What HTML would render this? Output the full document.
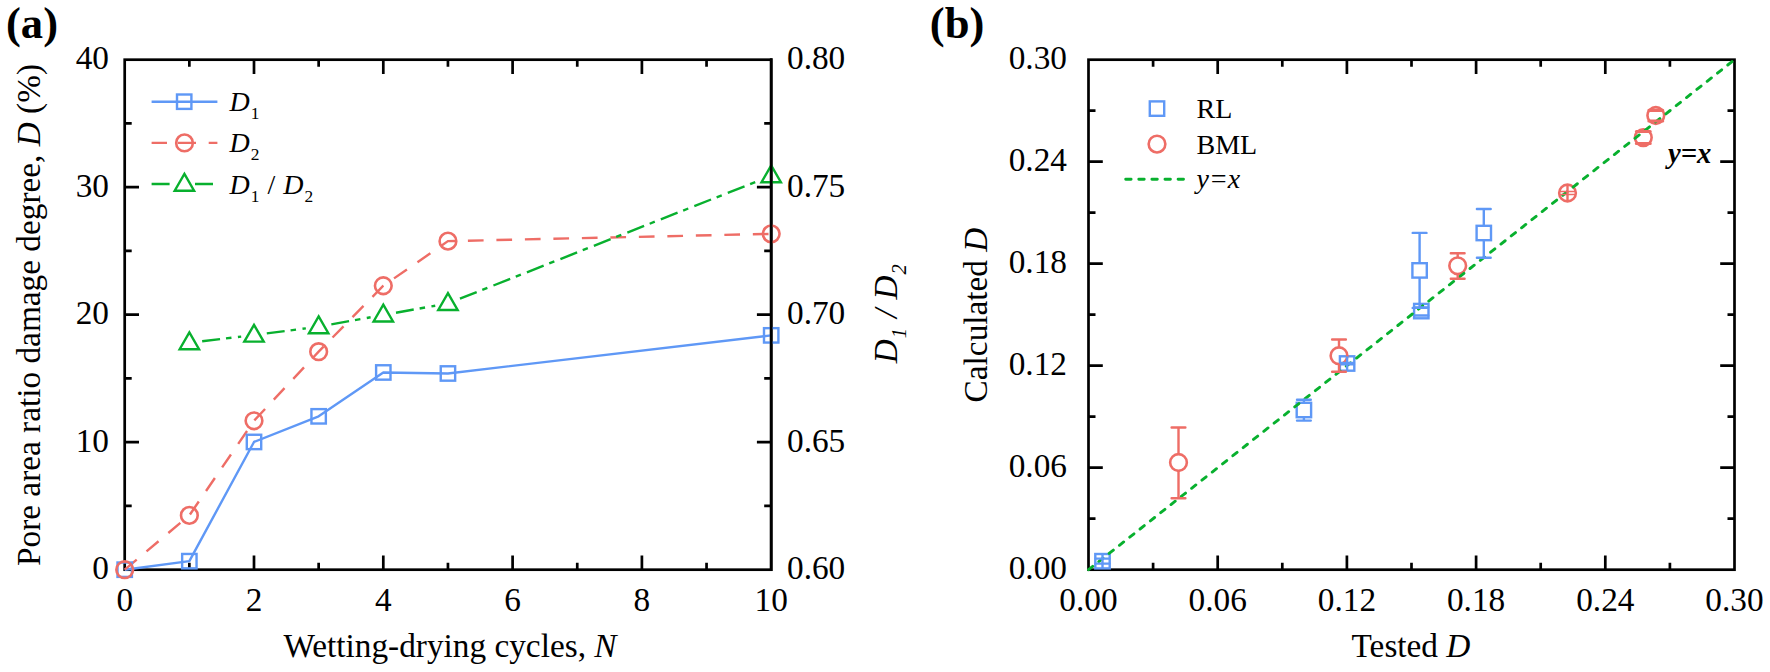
<!DOCTYPE html>
<html><head><meta charset="utf-8"><title>Figure</title>
<style>
html,body{margin:0;padding:0;background:#fff;}
svg{display:block;}
text{font-family:"Liberation Serif",serif;fill:#000;}
.t{font-size:33.3px;}
.l{font-size:28.0px;}
.i{font-style:italic;}
.s{font-size:17.4px;}
.ss{font-size:20.6px;}
.p{font-size:44.6px;font-weight:bold;}
.bi{font-size:28.6px;font-weight:bold;font-style:italic;}
</style></head><body>
<svg width="1770" height="672" viewBox="0 0 1770 672">
<rect width="1770" height="672" fill="#fff"/>
<g id="pa">
<rect x="124.7" y="59.7" width="646.5" height="510.00000000000006" fill="none" stroke="#000" stroke-width="2.7" stroke-linejoin="miter"/>
<path d="M189.35 569.7V562.7M189.35 59.7V66.7" stroke="#000" stroke-width="2.7" fill="none"/>
<path d="M254.00 569.7V555.4000000000001M254.00 59.7V74.0" stroke="#000" stroke-width="2.7" fill="none"/>
<path d="M318.65 569.7V562.7M318.65 59.7V66.7" stroke="#000" stroke-width="2.7" fill="none"/>
<path d="M383.30 569.7V555.4000000000001M383.30 59.7V74.0" stroke="#000" stroke-width="2.7" fill="none"/>
<path d="M447.95 569.7V562.7M447.95 59.7V66.7" stroke="#000" stroke-width="2.7" fill="none"/>
<path d="M512.60 569.7V555.4000000000001M512.60 59.7V74.0" stroke="#000" stroke-width="2.7" fill="none"/>
<path d="M577.25 569.7V562.7M577.25 59.7V66.7" stroke="#000" stroke-width="2.7" fill="none"/>
<path d="M641.90 569.7V555.4000000000001M641.90 59.7V74.0" stroke="#000" stroke-width="2.7" fill="none"/>
<path d="M706.55 569.7V562.7M706.55 59.7V66.7" stroke="#000" stroke-width="2.7" fill="none"/>
<path d="M124.7 505.95H131.7M771.2 505.95H764.2" stroke="#000" stroke-width="2.7" fill="none"/>
<path d="M124.7 442.20H139.0M771.2 442.20H756.9000000000001" stroke="#000" stroke-width="2.7" fill="none"/>
<path d="M124.7 378.45H131.7M771.2 378.45H764.2" stroke="#000" stroke-width="2.7" fill="none"/>
<path d="M124.7 314.70H139.0M771.2 314.70H756.9000000000001" stroke="#000" stroke-width="2.7" fill="none"/>
<path d="M124.7 250.95H131.7M771.2 250.95H764.2" stroke="#000" stroke-width="2.7" fill="none"/>
<path d="M124.7 187.20H139.0M771.2 187.20H756.9000000000001" stroke="#000" stroke-width="2.7" fill="none"/>
<path d="M124.7 123.45H131.7M771.2 123.45H764.2" stroke="#000" stroke-width="2.7" fill="none"/>
<text transform="translate(109.0,579.4) scale(1,1.04)" text-anchor="end" class="t">0</text>
<text transform="translate(109.0,451.9) scale(1,1.04)" text-anchor="end" class="t">10</text>
<text transform="translate(109.0,324.4) scale(1,1.04)" text-anchor="end" class="t">20</text>
<text transform="translate(109.0,196.9) scale(1,1.04)" text-anchor="end" class="t">30</text>
<text transform="translate(109.0,69.4) scale(1,1.04)" text-anchor="end" class="t">40</text>
<text transform="translate(124.7,611.0) scale(1,1.04)" text-anchor="middle" class="t">0</text>
<text transform="translate(254.0,611.0) scale(1,1.04)" text-anchor="middle" class="t">2</text>
<text transform="translate(383.3,611.0) scale(1,1.04)" text-anchor="middle" class="t">4</text>
<text transform="translate(512.6,611.0) scale(1,1.04)" text-anchor="middle" class="t">6</text>
<text transform="translate(641.9,611.0) scale(1,1.04)" text-anchor="middle" class="t">8</text>
<text transform="translate(771.2,611.0) scale(1,1.04)" text-anchor="middle" class="t">10</text>
<text transform="translate(787.0,579.4) scale(1,1.04)" class="t">0.60</text>
<text transform="translate(787.0,451.9) scale(1,1.04)" class="t">0.65</text>
<text transform="translate(787.0,324.4) scale(1,1.04)" class="t">0.70</text>
<text transform="translate(787.0,196.9) scale(1,1.04)" class="t">0.75</text>
<text transform="translate(787.0,69.4) scale(1,1.04)" class="t">0.80</text>
<polyline points="124.70,569.70 189.35,561.16 254.00,441.95 318.65,416.32 383.30,372.46 447.95,373.48 771.20,335.36" fill="none" stroke="#5f98f6" stroke-width="2.4" stroke-linejoin="round"/>
<polyline points="124.70,569.70 189.35,515.38 254.00,420.78 318.65,351.68 383.30,285.76 447.95,241.13 771.20,233.87" fill="none" stroke="#ee6d66" stroke-width="2.4" stroke-dasharray="15.7 12.8" stroke-linecap="butt"/>
<line x1="202.16" y1="341.23" x2="241.19" y2="336.62" stroke="#08b02e" stroke-width="2.4" stroke-dasharray="18 6 5.5 6.5"/>
<line x1="266.79" y1="333.43" x2="305.86" y2="328.35" stroke="#08b02e" stroke-width="2.4" stroke-dasharray="18 6 5.5 6.5"/>
<line x1="331.34" y1="324.38" x2="370.61" y2="317.26" stroke="#08b02e" stroke-width="2.4" stroke-dasharray="18 6 5.5 6.5"/>
<line x1="396.00" y1="312.70" x2="435.25" y2="305.73" stroke="#08b02e" stroke-width="2.4" stroke-dasharray="18 6 5.5 6.5"/>
<line x1="459.95" y1="298.74" x2="759.20" y2="180.47" stroke="#08b02e" stroke-width="2.4" stroke-dasharray="18 6 5.5 6.5"/>
<rect x="117.50" y="562.50" width="14.4" height="14.4" fill="none" stroke="#5f98f6" stroke-width="2.4"/>
<rect x="182.15" y="553.96" width="14.4" height="14.4" fill="none" stroke="#5f98f6" stroke-width="2.4"/>
<rect x="246.80" y="434.75" width="14.4" height="14.4" fill="none" stroke="#5f98f6" stroke-width="2.4"/>
<rect x="311.45" y="409.12" width="14.4" height="14.4" fill="none" stroke="#5f98f6" stroke-width="2.4"/>
<rect x="376.10" y="365.26" width="14.4" height="14.4" fill="none" stroke="#5f98f6" stroke-width="2.4"/>
<rect x="440.75" y="366.28" width="14.4" height="14.4" fill="none" stroke="#5f98f6" stroke-width="2.4"/>
<rect x="764.00" y="328.16" width="14.4" height="14.4" fill="none" stroke="#5f98f6" stroke-width="2.4"/>
<circle cx="124.70" cy="569.70" r="8.35" fill="none" stroke="#ee6d66" stroke-width="2.6"/>
<circle cx="189.35" cy="515.38" r="8.35" fill="none" stroke="#ee6d66" stroke-width="2.6"/>
<circle cx="254.00" cy="420.78" r="8.35" fill="none" stroke="#ee6d66" stroke-width="2.6"/>
<circle cx="318.65" cy="351.68" r="8.35" fill="none" stroke="#ee6d66" stroke-width="2.6"/>
<circle cx="383.30" cy="285.76" r="8.35" fill="none" stroke="#ee6d66" stroke-width="2.6"/>
<circle cx="447.95" cy="241.13" r="8.35" fill="none" stroke="#ee6d66" stroke-width="2.6"/>
<circle cx="771.20" cy="233.87" r="8.35" fill="none" stroke="#ee6d66" stroke-width="2.6"/>
<polygon points="189.35,332.45 199.05,349.25 179.65,349.25" fill="none" stroke="#08b02e" stroke-width="2.4" stroke-linejoin="miter"/>
<polygon points="254.00,324.80 263.70,341.60 244.30,341.60" fill="none" stroke="#08b02e" stroke-width="2.4" stroke-linejoin="miter"/>
<polygon points="318.65,316.38 328.35,333.18 308.95,333.18" fill="none" stroke="#08b02e" stroke-width="2.4" stroke-linejoin="miter"/>
<polygon points="383.30,304.66 393.00,321.46 373.60,321.46" fill="none" stroke="#08b02e" stroke-width="2.4" stroke-linejoin="miter"/>
<polygon points="447.95,293.18 457.65,309.98 438.25,309.98" fill="none" stroke="#08b02e" stroke-width="2.4" stroke-linejoin="miter"/>
<polygon points="771.20,165.43 780.90,182.23 761.50,182.23" fill="none" stroke="#08b02e" stroke-width="2.4" stroke-linejoin="miter"/>
<path d="M771.2 58.35V571.0500000000001" stroke="#000" stroke-width="2.7" fill="none"/>
<line x1="151.6" y1="101.7" x2="217.4" y2="101.7" stroke="#5f98f6" stroke-width="2.4"/>
<rect x="177.00" y="94.50" width="14.4" height="14.4" fill="none" stroke="#5f98f6" stroke-width="2.4"/>
<path d="M151.6 142.9H167M177.7 142.9H196M208.7 142.9H217.4" stroke="#ee6d66" stroke-width="2.4" fill="none"/>
<circle cx="184.50" cy="142.90" r="8.35" fill="none" stroke="#ee6d66" stroke-width="2.6"/>
<path d="M151.6 184H169.6M195 184H213" stroke="#08b02e" stroke-width="2.4" fill="none"/>
<polygon points="184.40,173.90 194.10,190.70 174.70,190.70" fill="none" stroke="#08b02e" stroke-width="2.4" stroke-linejoin="miter"/>
<text x="229.5" y="111" class="l"><tspan class="i">D</tspan><tspan class="s" dy="8" dx="1">1</tspan></text>
<text x="229.5" y="152.3" class="l"><tspan class="i">D</tspan><tspan class="s" dy="8" dx="1">2</tspan></text>
<text x="229.5" y="193.5" class="l"><tspan class="i">D</tspan><tspan class="s" dy="8" dx="1">1</tspan><tspan dy="-8" dx="1"> / </tspan><tspan class="i" dx="1">D</tspan><tspan class="s" dy="8" dx="1">2</tspan></text>
<text x="450" y="657" text-anchor="middle" class="t">Wetting-drying cycles, <tspan class="i">N</tspan></text>
<text transform="translate(40.3,315) rotate(-90)" text-anchor="middle" class="t">Pore area ratio damage degree, <tspan class="i">D</tspan> (%)</text>
<text transform="translate(897.2,363.2) rotate(-90)" class="t"><tspan class="i">D</tspan><tspan class="i ss" dy="8.7" dx="1">1</tspan><tspan class="i" dy="-8.7" dx="1.5"> / </tspan><tspan class="i" dx="1">D</tspan><tspan class="i ss" dy="8.7" dx="1">2</tspan></text>
<text x="6" y="38" class="p">(a)</text>
</g>
<g id="pb">
<rect x="1088.5" y="59.7" width="646.0" height="510.00000000000006" fill="none" stroke="#000" stroke-width="2.7" stroke-linejoin="miter"/>
<path d="M1153.10 569.7V562.7M1153.10 59.7V66.7" stroke="#000" stroke-width="2.7" fill="none"/>
<path d="M1217.70 569.7V555.4000000000001M1217.70 59.7V74.0" stroke="#000" stroke-width="2.7" fill="none"/>
<path d="M1282.30 569.7V562.7M1282.30 59.7V66.7" stroke="#000" stroke-width="2.7" fill="none"/>
<path d="M1346.90 569.7V555.4000000000001M1346.90 59.7V74.0" stroke="#000" stroke-width="2.7" fill="none"/>
<path d="M1411.50 569.7V562.7M1411.50 59.7V66.7" stroke="#000" stroke-width="2.7" fill="none"/>
<path d="M1476.10 569.7V555.4000000000001M1476.10 59.7V74.0" stroke="#000" stroke-width="2.7" fill="none"/>
<path d="M1540.70 569.7V562.7M1540.70 59.7V66.7" stroke="#000" stroke-width="2.7" fill="none"/>
<path d="M1605.30 569.7V555.4000000000001M1605.30 59.7V74.0" stroke="#000" stroke-width="2.7" fill="none"/>
<path d="M1669.90 569.7V562.7M1669.90 59.7V66.7" stroke="#000" stroke-width="2.7" fill="none"/>
<path d="M1088.5 518.70H1095.5M1734.5 518.70H1727.5" stroke="#000" stroke-width="2.7" fill="none"/>
<path d="M1088.5 467.70H1102.8M1734.5 467.70H1720.2" stroke="#000" stroke-width="2.7" fill="none"/>
<path d="M1088.5 416.70H1095.5M1734.5 416.70H1727.5" stroke="#000" stroke-width="2.7" fill="none"/>
<path d="M1088.5 365.70H1102.8M1734.5 365.70H1720.2" stroke="#000" stroke-width="2.7" fill="none"/>
<path d="M1088.5 314.70H1095.5M1734.5 314.70H1727.5" stroke="#000" stroke-width="2.7" fill="none"/>
<path d="M1088.5 263.70H1102.8M1734.5 263.70H1720.2" stroke="#000" stroke-width="2.7" fill="none"/>
<path d="M1088.5 212.70H1095.5M1734.5 212.70H1727.5" stroke="#000" stroke-width="2.7" fill="none"/>
<path d="M1088.5 161.70H1102.8M1734.5 161.70H1720.2" stroke="#000" stroke-width="2.7" fill="none"/>
<path d="M1088.5 110.70H1095.5M1734.5 110.70H1727.5" stroke="#000" stroke-width="2.7" fill="none"/>
<text transform="translate(1067.0,579.4) scale(1,1.04)" text-anchor="end" class="t">0.00</text>
<text transform="translate(1088.5,611.0) scale(1,1.04)" text-anchor="middle" class="t">0.00</text>
<text transform="translate(1067.0,477.4) scale(1,1.04)" text-anchor="end" class="t">0.06</text>
<text transform="translate(1217.7,611.0) scale(1,1.04)" text-anchor="middle" class="t">0.06</text>
<text transform="translate(1067.0,375.4) scale(1,1.04)" text-anchor="end" class="t">0.12</text>
<text transform="translate(1346.9,611.0) scale(1,1.04)" text-anchor="middle" class="t">0.12</text>
<text transform="translate(1067.0,273.4) scale(1,1.04)" text-anchor="end" class="t">0.18</text>
<text transform="translate(1476.1,611.0) scale(1,1.04)" text-anchor="middle" class="t">0.18</text>
<text transform="translate(1067.0,171.4) scale(1,1.04)" text-anchor="end" class="t">0.24</text>
<text transform="translate(1605.3,611.0) scale(1,1.04)" text-anchor="middle" class="t">0.24</text>
<text transform="translate(1067.0,69.4) scale(1,1.04)" text-anchor="end" class="t">0.30</text>
<text transform="translate(1734.5,611.0) scale(1,1.04)" text-anchor="middle" class="t">0.30</text>
<rect x="1095.30" y="554.00" width="14.4" height="14.4" fill="none" stroke="#5f98f6" stroke-width="2.4"/>
<rect x="1296.70" y="402.80" width="14.4" height="14.4" fill="none" stroke="#5f98f6" stroke-width="2.4"/>
<rect x="1339.90" y="356.30" width="14.4" height="14.4" fill="none" stroke="#5f98f6" stroke-width="2.4"/>
<rect x="1414.10" y="303.90" width="14.4" height="14.4" fill="none" stroke="#5f98f6" stroke-width="2.4"/>
<rect x="1412.40" y="263.20" width="14.4" height="14.4" fill="none" stroke="#5f98f6" stroke-width="2.4"/>
<rect x="1476.60" y="225.80" width="14.4" height="14.4" fill="none" stroke="#5f98f6" stroke-width="2.4"/>
<circle cx="1178.50" cy="462.50" r="8.35" fill="none" stroke="#ee6d66" stroke-width="2.6"/>
<circle cx="1339.00" cy="355.70" r="8.35" fill="none" stroke="#ee6d66" stroke-width="2.6"/>
<circle cx="1457.70" cy="265.80" r="8.35" fill="none" stroke="#ee6d66" stroke-width="2.6"/>
<circle cx="1567.50" cy="193.00" r="8.35" fill="none" stroke="#ee6d66" stroke-width="2.6"/>
<circle cx="1643.30" cy="137.60" r="8.35" fill="none" stroke="#ee6d66" stroke-width="2.6"/>
<circle cx="1655.80" cy="115.50" r="8.35" fill="none" stroke="#ee6d66" stroke-width="2.6"/>
<line x1="1088.5" y1="569.7" x2="1734.5" y2="59.7" stroke="#08b02e" stroke-width="2.9" stroke-dasharray="5.4 7.737" stroke-linecap="round"/>
<path d="M1095.60 558.60H1109.40M1095.60 563.60H1109.40" fill="none" stroke="#5f98f6" stroke-width="2.4" stroke-linecap="round"/>
<path d="M1102.50 554.00V568.40" fill="none" stroke="#5f98f6" stroke-width="2.4" stroke-linecap="butt"/>
<path d="M1297.00 399.70H1310.80M1297.00 420.60H1310.80" fill="none" stroke="#5f98f6" stroke-width="2.4" stroke-linecap="round"/>
<path d="M1303.90 399.70V402.80M1303.90 420.60V417.20" fill="none" stroke="#5f98f6" stroke-width="2.4" stroke-linecap="butt"/>
<path d="M1340.20 362.90H1354.00M1340.20 364.30H1354.00" fill="none" stroke="#5f98f6" stroke-width="2.4" stroke-linecap="round"/>
<path d="M1347.10 356.30V370.70" fill="none" stroke="#5f98f6" stroke-width="2.4" stroke-linecap="butt"/>
<path d="M1414.40 307.50H1428.20M1414.40 315.50H1428.20" fill="none" stroke="#5f98f6" stroke-width="2.4" stroke-linecap="round"/>
<path d="M1412.70 232.90H1426.50M1412.70 307.90H1426.50" fill="none" stroke="#5f98f6" stroke-width="2.4" stroke-linecap="round"/>
<path d="M1419.60 232.90V263.20M1419.60 307.90V277.60" fill="none" stroke="#5f98f6" stroke-width="2.4" stroke-linecap="butt"/>
<path d="M1476.90 209.00H1490.70M1476.90 257.80H1490.70" fill="none" stroke="#5f98f6" stroke-width="2.4" stroke-linecap="round"/>
<path d="M1483.80 209.00V225.80M1483.80 257.80V240.20" fill="none" stroke="#5f98f6" stroke-width="2.4" stroke-linecap="butt"/>
<path d="M1171.60 427.50H1185.40M1171.60 498.30H1185.40" fill="none" stroke="#ee6d66" stroke-width="2.4" stroke-linecap="round"/>
<path d="M1178.50 427.50V454.50M1178.50 498.30V470.50" fill="none" stroke="#ee6d66" stroke-width="2.4" stroke-linecap="butt"/>
<path d="M1332.10 339.50H1345.90M1332.10 371.80H1345.90" fill="none" stroke="#ee6d66" stroke-width="2.4" stroke-linecap="round"/>
<path d="M1339.00 339.50V347.70M1339.00 371.80V363.70" fill="none" stroke="#ee6d66" stroke-width="2.4" stroke-linecap="butt"/>
<path d="M1450.80 253.20H1464.60M1450.80 278.70H1464.60" fill="none" stroke="#ee6d66" stroke-width="2.4" stroke-linecap="round"/>
<path d="M1457.70 253.20V257.80M1457.70 278.70V273.80" fill="none" stroke="#ee6d66" stroke-width="2.4" stroke-linecap="butt"/>
<path d="M1560.60 191.50H1574.40M1560.60 194.50H1574.40" fill="none" stroke="#ee6d66" stroke-width="1.3" stroke-linecap="round"/>
<path d="M1567.50 185.00V201.00" fill="none" stroke="#ee6d66" stroke-width="2.4" stroke-linecap="butt"/>
<path d="M1636.40 131.50H1650.20M1636.40 143.50H1650.20" fill="none" stroke="#ee6d66" stroke-width="3.2" stroke-linecap="round"/>
<path d="M1648.90 110.30H1662.70M1648.90 121.00H1662.70" fill="none" stroke="#ee6d66" stroke-width="3.2" stroke-linecap="round"/>
<rect x="1149.80" y="101.40" width="14.4" height="14.4" fill="none" stroke="#5f98f6" stroke-width="2.4"/>
<circle cx="1157.00" cy="144.10" r="8.35" fill="none" stroke="#ee6d66" stroke-width="2.6"/>
<line x1="1125.7" y1="179.3" x2="1185" y2="179.3" stroke="#08b02e" stroke-width="2.9" stroke-dasharray="5.4 7.7" stroke-linecap="round"/>
<text x="1196.5" y="117.6" class="l">RL</text>
<text x="1196.5" y="153.7" class="l">BML</text>
<text x="1196.5" y="188" class="l i">y=x</text>
<text x="1668" y="162.5" class="bi">y=x</text>
<text x="1411" y="657" text-anchor="middle" class="t">Tested <tspan class="i">D</tspan></text>
<text transform="translate(986.5,315) rotate(-90)" text-anchor="middle" class="t">Calculated <tspan class="i">D</tspan></text>
<text x="929.8" y="38" class="p">(b)</text>
</g>
</svg>
</body></html>
